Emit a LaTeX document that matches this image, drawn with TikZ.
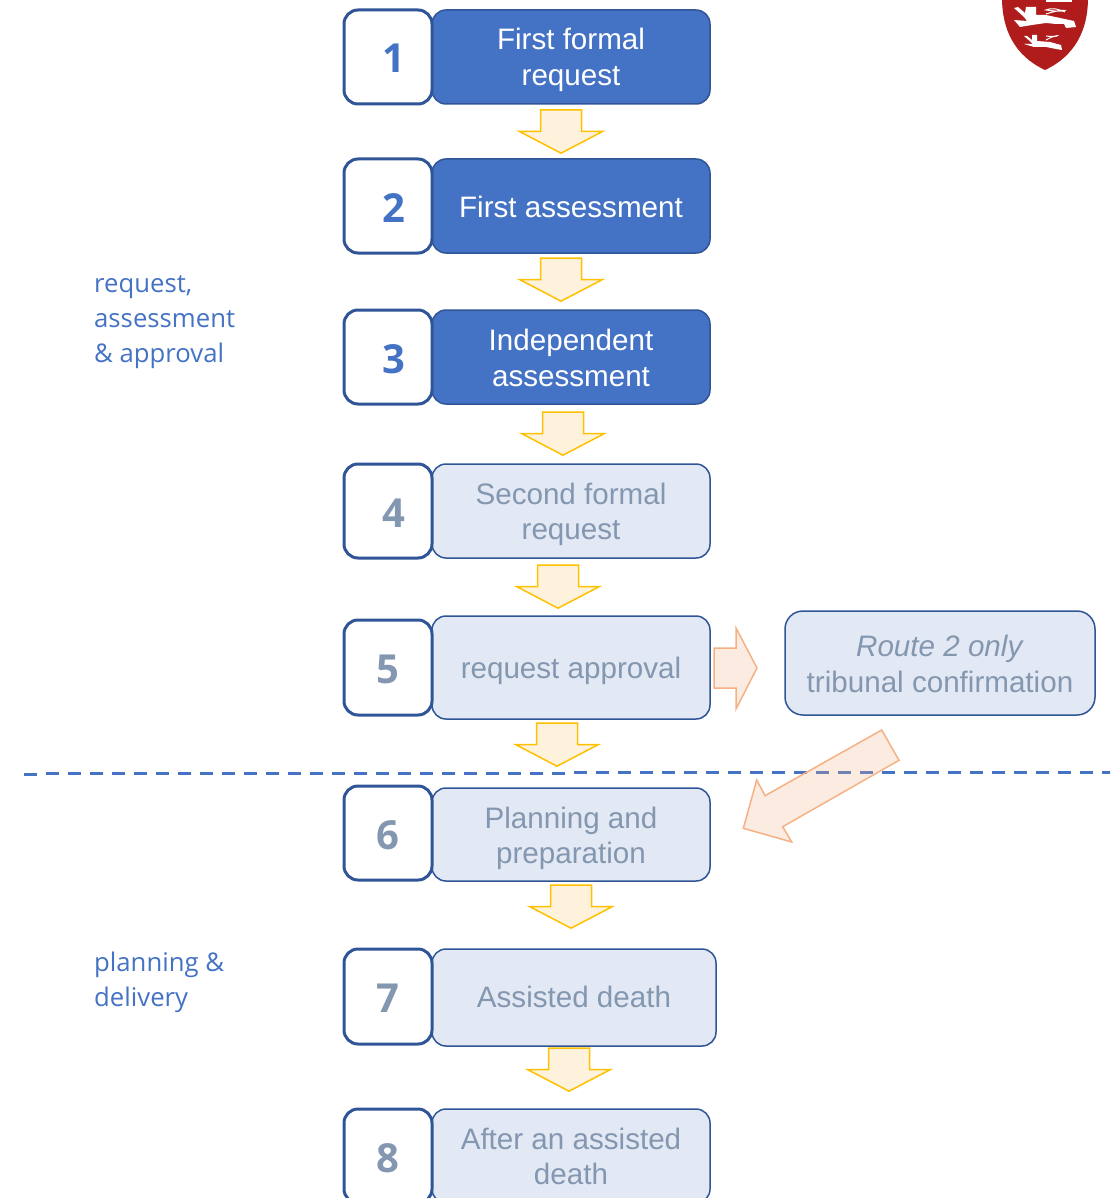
\documentclass[tikz,border=0pt]{standalone}
\usepackage{fontspec}
\setmainfont{Liberation Sans}
\newfontfamily\labelfont{Open Sans}
\definecolor{mainblue}{HTML}{4472C4}
\definecolor{darkblue}{HTML}{2F5597}
\definecolor{lightfill}{HTML}{E2E8F4}
\definecolor{greytext}{HTML}{8497B0}
\definecolor{gold}{HTML}{FFC000}
\definecolor{goldfill}{HTML}{FFF2DC}
\definecolor{peach}{HTML}{F4B183}
\definecolor{shield}{HTML}{B01C1C}
\tikzset{
  numbox/.style={draw=darkblue,line width=3pt,fill=white,rectangle,rounded corners=14pt,minimum width=88pt,inner sep=0pt},
  numtext/.style={inner sep=0pt,font=\labelfont\bfseries\fontsize{40}{40}\selectfont},
  txtbox/.style={draw=darkblue,line width=1.5pt,rectangle,rounded corners=14pt,minimum width=278pt,inner sep=0pt},
  darkbox/.style={txtbox,fill=mainblue},
  lightbox/.style={txtbox,fill=lightfill},
  boxtext/.style={inner sep=0pt,align=center,font=\fontsize{29.6}{35.5}\selectfont},
  sidelabel/.style={anchor=west,inner sep=0pt,align=left,text=mainblue,font=\labelfont\fontsize{25.7}{35.3}\selectfont},
  golddown/.pic={\draw[draw=gold,fill=goldfill,line width=1.5pt,line join=miter]
     (-20.5,0)--(20.5,0)--(20.5,21.5)--(41.5,21.5)--(0,43.2)--(-41.5,21.5)--(-20.5,21.5)--cycle;},
  peacharrow/.style={draw=peach,fill=peach,line width=1.5pt,fill opacity=.25}
}
\begin{document}
\begin{tikzpicture}[x=1pt,y=-1pt]
\useasboundingbox (0,0) rectangle (1110,1198);
\clip (0,0) rectangle (1110,1198);
% shield
\fill[shield] (1002,-2) -- (1088,-2) .. controls (1088,30) and (1075,56) .. (1045,70) .. controls (1015,56) and (1002,30) .. (1002,-2) -- cycle;
\fill[white] (1014,8) -- (1018,7) -- (1025,13) -- (1026,7) -- (1036,7) -- (1036,15) -- (1046,15) -- (1060,18) -- (1074,21) -- (1076,27) -- (1066,28) -- (1064,24) -- (1056,24) -- (1046,23) -- (1032,25) -- (1020,27) -- (1014,20) -- (1027,21) -- (1024,17) -- cycle;
\fill[white] (1024,36) -- (1027,36) -- (1032,40) -- (1032,35) -- (1037,35) -- (1037,41) -- (1050,42) -- (1061,45) -- (1062,50) -- (1056,49) -- (1046,47) -- (1034,47) -- (1024,44) -- (1033,44) -- cycle;
\draw[white,line width=1pt] (1046,14) .. controls (1070,6) and (1072,14) .. (1046,10) .. controls (1050,8) and (1056,8) .. (1065,12);
\draw[white,line width=1pt] (1046,40) .. controls (1060,32) and (1062,38) .. (1046,36);
\draw[white,line width=1.5pt] (1046,1) -- (1072,1);
% text boxes
\node[darkbox,minimum height=94pt,label={[boxtext,text=white,yshift=-3pt]center:First formal\\request}] (t1) at (571,57) {};
\node[darkbox,minimum height=94pt,label={[boxtext,text=white,yshift=-.5pt]center:First assessment}] (t2) at (571,206) {};
\node[darkbox,minimum height=94pt,label={[boxtext,text=white,yshift=-1pt]center:Independent\\assessment}] (t3) at (571,357) {};
\node[lightbox,minimum height=94pt,label={[boxtext,text=greytext,yshift=-3.5pt]center:Second formal\\request}] (t4) at (571,511) {};
\node[lightbox,minimum height=103pt,label={[boxtext,text=greytext,yshift=-3pt]center:request approval}] (t5) at (571,667.5) {};
\node[lightbox,minimum height=93pt,label={[boxtext,text=greytext,yshift=-4pt]center:Planning and\\preparation}] (t6) at (571,834.5) {};
\node[lightbox,minimum width=284pt,minimum height=97pt,label={[boxtext,text=greytext,yshift=1pt]center:Assisted death}] (t7) at (574,997.5) {};
\node[lightbox,minimum height=94pt,label={[boxtext,text=greytext,yshift=-.5pt]center:After an assisted\\death}] (t8) at (571,1156) {};
% number boxes
\node[numbox,minimum height=94pt,label={[numtext,text=mainblue,xshift=6pt,yshift=-1.5pt]center:1}] (n1) at (388,57) {};
\node[numbox,minimum height=94pt,label={[numtext,text=mainblue,xshift=6pt,yshift=-2pt]center:2}] (n2) at (388,206) {};
\node[numbox,minimum height=94pt,label={[numtext,text=mainblue,xshift=6pt,yshift=-2pt]center:3}] (n3) at (388,357) {};
\node[numbox,minimum height=94pt,label={[numtext,text=greytext,xshift=6pt,yshift=-2pt]center:4}] (n4) at (388,511) {};
\node[numbox,minimum height=95pt,label={[numtext,text=greytext,yshift=-2pt]center:5}] (n5) at (388,667.5) {};
\node[numbox,minimum height=94pt,label={[numtext,text=greytext,yshift=-2pt]center:6}] (n6) at (388,833) {};
\node[numbox,minimum height=95pt,label={[numtext,text=greytext,yshift=-1.5pt]center:7}] (n7) at (388,996.5) {};
\node[numbox,minimum height=94pt,label={[numtext,text=greytext,yshift=-2pt]center:8}] (n8) at (388,1156) {};
% route 2 box
\node[lightbox,minimum width=310pt,minimum height=104pt,rounded corners=18pt,label={[boxtext,text=greytext,yshift=-1pt]center:\textit{Route 2 only}\\tribunal confirmation}] (r2) at (940,663) {};
% side labels
\node[sidelabel] (l1) at (94,322) {request,\\assessment\\\&\ approval};
\node[sidelabel] (l2) at (94,982.5) {planning \&\\delivery};
% dashed divider, drawn dash by dash
\foreach \i in {0,...,49} {
  \fill[mainblue] ({24+\i*22},{772.5-\i*0.0405}) -- ({37+\i*22},{772.5-\i*0.0405}) -- ({37+\i*22},{775.5-\i*0.0405}) -- ({24+\i*22},{775.5-\i*0.0405}) -- cycle;
}
% gold arrows
\pic at (561,110) {golddown};
\pic at (561,258) {golddown};
\pic at (563,412) {golddown};
\pic at (558,565) {golddown};
\pic at (557,723) {golddown};
\pic at (571,885) {golddown};
\pic at (569,1048) {golddown};
% peach arrows
\draw[peacharrow] (714,648) -- (736,648) -- (736,628) -- (757,668) -- (736,709) -- (736,688) -- (714,688) -- cycle;
\draw[peacharrow] (881.7,730) -- (899,760.3) -- (782.7,826.7) -- (791.7,842) -- (743.3,828.3) -- (756.7,780) -- (765,795.7) -- cycle;
\end{tikzpicture}
\end{document}
